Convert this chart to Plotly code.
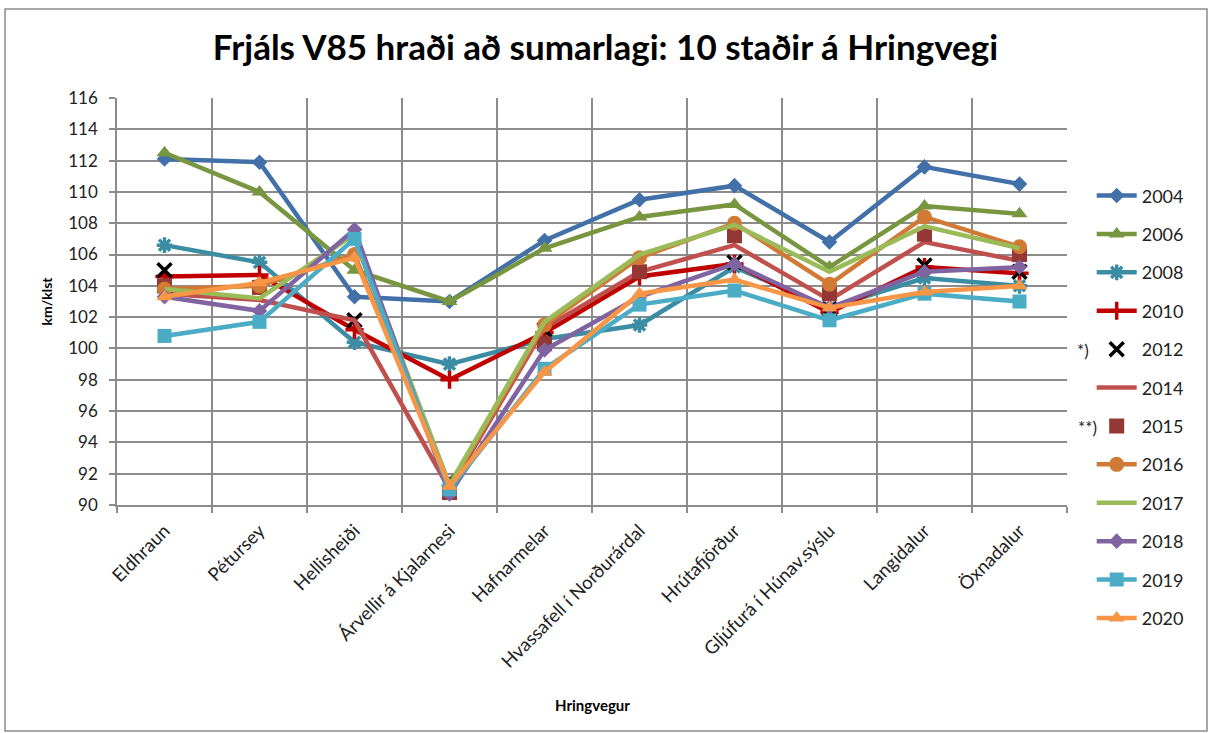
import plotly.graph_objects as go

stadir = ["Eldhraun", "Pétursey", "Hellisheiði", "Árvellir á Kjalarnesi",
          "Hafnarmelar", "Hvassafell í Norðurárdal", "Hrútafjörður",
          "Gljúfurá í Húnav.sýslu", "Langidalur", "Öxnadalur"]

v2004 = [112.1, 111.9, 103.3, 103.0, 106.9, 109.5, 110.4, 106.8, 111.6, 110.5]
v2006 = [112.5, 110.0, 105.0, 103.0, 106.4, 108.4, 109.2, 105.2, 109.1, 108.6]
v2008 = [106.6, 105.5, 100.4, 99.0, 100.6, 101.5, 105.2, 102.6, 104.5, 104.0]
v2010 = [104.6, 104.7, 101.2, 98.0, 101.0, 104.6, 105.4, 102.3, 105.2, 104.8]
v2012 = [105.0, None, 101.8, 91.6, 101.2, None, 105.5, 102.5, 105.3, 104.9]
v2014 = [103.5, 103.1, 101.8, 91.0, 101.3, 104.9, 106.6, 103.1, 106.8, 105.6]
v2015 = [104.0, 103.9, None, 90.8, 100.3, 104.9, 107.2, 103.5, 107.3, 106.0]
v2016 = [103.8, 104.0, 106.0, 91.2, 101.5, 105.8, 108.0, 104.1, 108.4, 106.5]
v2017 = [103.8, 103.2, 107.3, 91.3, 101.7, 106.0, 107.9, 104.9, 107.8, 106.4]
v2018 = [103.3, 102.4, 107.6, 90.7, 99.9, 103.3, 105.4, 102.6, 104.9, 105.2]
v2019 = [100.8, 101.7, 107.0, 91.0, 98.7, 102.8, 103.7, 101.8, 103.5, 103.0]
v2020 = [103.3, 104.2, 105.8, 91.2, 98.5, 103.5, 104.4, 102.6, 103.6, 104.0]

# (year, values, color, marker symbol, marker size, mode)
series = [
    ("2004", v2004, "#4270A8", "diamond", 12, "lines+markers"),
    ("2006", v2006, "#77963F", "triangle-up", 14, "lines+markers"),
    ("2008", v2008, "#3A8DA3", "asterisk-open", 13, "lines+markers"),
    ("2010", v2010, "#C00000", "cross-thin-open", 13, "lines+markers"),
    ("2012", v2012, "#000000", "x-thin-open", 14, "markers"),
    ("2014", v2014, "#C0504D", "circle", 1, "lines"),
    ("2015", v2015, "#953735", "square", 15, "markers"),
    ("2016", v2016, "#D07A36", "circle", 15, "lines+markers"),
    ("2017", v2017, "#9BBB59", "circle", 1, "lines"),
    ("2018", v2018, "#8064A2", "diamond", 12, "lines+markers"),
    ("2019", v2019, "#4BACC6", "square", 14, "lines+markers"),
    ("2020", v2020, "#F79646", "triangle-up", 14, "lines+markers"),
]

font = "Lato, Arial, sans-serif"

fig = go.Figure()
for year, vals, color, sym, size, mode in series:
    lw = 3.5 if sym.endswith("open") else 0
    fig.add_trace(go.Scatter(
        x=stadir, y=vals, name=year, mode=mode, legendgroup=year,
        connectgaps=True,
        line=dict(color=color, width=4.5),
        marker=dict(symbol=sym, size=size, color=color,
                    line=dict(color=color, width=lw)),
    ))


def px_to_paper(px, py):
    return (px - 117) / 950, (505 - py) / 407


labels = [("*)", 1083, 350, 17, False), ("**)", 1087, 427, 17, False),
          ("<b>Hringvegur</b>", 592, 705, 15, True)]
annotations = []
for txt, px, py, size, dark in labels:
    ax, ay = px_to_paper(px, py)
    annotations.append(dict(text=txt, x=ax, y=ay, xref="paper", yref="paper",
                            showarrow=False, xanchor="center", yanchor="middle",
                            font=dict(size=size, color="black" if dark else "#222")))

bx0, by0 = px_to_paper(5, 731)
bx1, by1 = px_to_paper(1207, 9)

fig.update_layout(
    width=1211, height=733,
    margin=dict(l=117, r=144, t=98, b=228),
    paper_bgcolor="white", plot_bgcolor="white",
    font=dict(family=font, size=17, color="#222"),
    title=dict(text="<b>Frjáls V85 hraði að sumarlagi: 10 staðir á Hringvegi</b>",
               x=0.5, xanchor="center", y=0.935, yanchor="middle",
               font=dict(size=35, color="black")),
    legend=dict(x=1.026, y=0.805, xanchor="left", yanchor="top",
                traceorder="grouped", tracegroupgap=12, maxheight=650,
                font=dict(size=18, color="#222"), itemwidth=40),
    shapes=[dict(type="rect", xref="paper", yref="paper",
                 x0=bx0, x1=bx1, y0=by0, y1=by1,
                 line=dict(color="#8c8c8c", width=1.5))],
    annotations=annotations,
)

fig.update_xaxes(
    type="category", range=[-0.5, 9.5], tickson="boundaries",
    showgrid=True, gridcolor="#8c8c8c", gridwidth=1.5,
    showline=True, linecolor="#8c8c8c", linewidth=1.5,
    ticks="outside", ticklen=6, tickcolor="#8c8c8c", tickwidth=1.5,
    tickangle=-45, tickfont=dict(size=18.5), ticklabelstandoff=6,
    automargin=False,
)
fig.update_yaxes(
    range=[90, 116], dtick=2,
    showgrid=True, gridcolor="#8c8c8c", gridwidth=1.5,
    showline=True, linecolor="#8c8c8c", linewidth=1.5,
    ticks="outside", ticklen=6, tickcolor="#8c8c8c", tickwidth=1.5,
    tickfont=dict(size=17), ticklabelstandoff=8, zeroline=False,
    automargin=False,
    title=dict(text="<b>km/klst</b>", font=dict(size=14, color="black"),
               standoff=12),
)

fig.write_html("out.html", config={"displayModeBar": False},
               post_script="document.body.style.margin='0';")
